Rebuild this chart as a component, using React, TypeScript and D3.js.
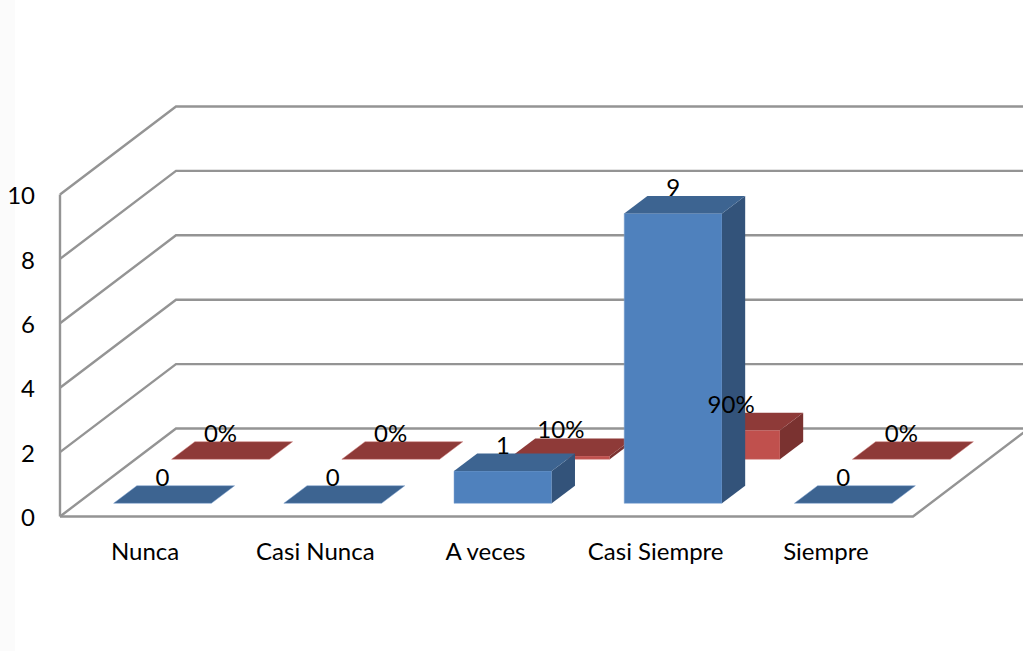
import * as d3 from 'd3';

const categories = ['Nunca', 'Casi Nunca', 'A veces', 'Casi Siempre', 'Siempre'];
const counts = [0, 0, 1, 9, 0];
const shares = [0, 0, 0.1, 0.9, 0];
const shareLabels = ['0%', '0%', '10%', '90%', '0%'];
const yTicks = [0, 2, 4, 6, 8, 10];

const width = 1023;
const height = 651;
const font = 'Lato, "Open Sans", sans-serif';
const gridColor = '#949494';

// front plane of the 3d box and how far back the floor goes
const left = 60;
const right = 913;
const depthX = 116;
const depthY = 88;

const x = d3.scaleBand<string>().domain(categories).range([left, 911]).paddingInner(0.4256).paddingOuter(0.2128);
const y = d3.scaleLinear().domain([0, 10]).range([516.5, 194.5]);
const z = d3.scaleBand<string>().domain(['count', 'share']).range([0, 1]).paddingInner(0.6).paddingOuter(0.3);

const series = [
  { key: 'share', values: shares, labels: shareLabels, front: '#c0504d', top: '#8e3a38', side: '#7a3230', edge: '#cf7f7c' },
  { key: 'count', values: counts, labels: counts.map(String), front: '#4f81bd', top: '#3d6491', side: '#33537a', edge: '#7fa3d0' },
];

// project a point (px on x axis, value, depth 0..1) onto the screen
const px = (xv: number, v: number, d: number): [number, number] => [xv + d * depthX, y(v) - d * depthY];
const poly = (pts: [number, number][]) => pts.map((p) => p.join(',')).join(' ');

function Bar({ cat, value, s }: { cat: string; value: number; s: (typeof series)[number] }) {
  const x0 = x(cat)!;
  const x1 = x0 + x.bandwidth();
  const d0 = z(s.key)!;
  const d1 = d0 + z.bandwidth();
  return (
    <g>
      {value > 0 && (
        <polygon
          points={poly([px(x0, 0, d0), px(x1, 0, d0), px(x1, value, d0), px(x0, value, d0)])}
          fill={s.front}
          stroke={s.edge}
          strokeWidth={0.5}
        />
      )}
      {value > 0 && (
        <polygon points={poly([px(x1, 0, d0), px(x1, 0, d1), px(x1, value, d1), px(x1, value, d0)])} fill={s.side} />
      )}
      <polygon
        points={poly([px(x0, value, d0), px(x1, value, d0), px(x1, value, d1), px(x0, value, d1)])}
        fill={s.top}
        stroke={value > 0 ? 'none' : s.edge}
        strokeWidth={0.5}
      />
    </g>
  );
}

export default function App() {
  return (
    <svg
      width={width}
      height={height}
      style={{ position: 'fixed', top: 0, left: 0, background: '#fff' }}
      fontFamily={font}
    >
      <rect x={0} y={0} width={15} height={height} fill="#fbfbfb" />

      {yTicks.map((t) => (
        <polyline
          key={t}
          points={poly([px(left, t, 0), px(left, t, 1), px(right, t, 1)])}
          fill="none"
          stroke={gridColor}
          strokeWidth={2.4}
        />
      ))}
      <line x1={left} x2={left} y1={y(0)} y2={y(10)} stroke={gridColor} strokeWidth={2.4} />
      <polyline points={poly([px(left, 0, 0), px(right, 0, 0), px(right, 0, 1)])} fill="none" stroke={gridColor} strokeWidth={2.4} />

      {series.map((s) =>
        categories.map((c, i) => <Bar key={s.key + c} cat={c} value={s.values[i]} s={s} />),
      )}

      {yTicks.map((t) => (
        <text key={t} x={35} y={y(t) + 1} dy="0.36em" textAnchor="end" fontSize={24} fill="#000">
          {t}
        </text>
      ))}
      {categories.map((c) => (
        <text key={c} x={x(c)! + x.bandwidth() / 2} y={560} textAnchor="middle" fontSize={24} fill="#000">
          {c}
        </text>
      ))}
      {series.map((s) =>
        categories.map((c, i) => {
          const d0 = z(s.key)!;
          const [lx] = px(x(c)! + x.bandwidth() / 2, s.values[i], d0);
          const [, ly] = px(0, s.values[i], d0 + z.bandwidth());
          return (
            <text key={s.key + c} x={lx} y={ly} textAnchor="middle" fontSize={24} fill="#000">
              {s.labels[i]}
            </text>
          );
        }),
      )}
    </svg>
  );
}
